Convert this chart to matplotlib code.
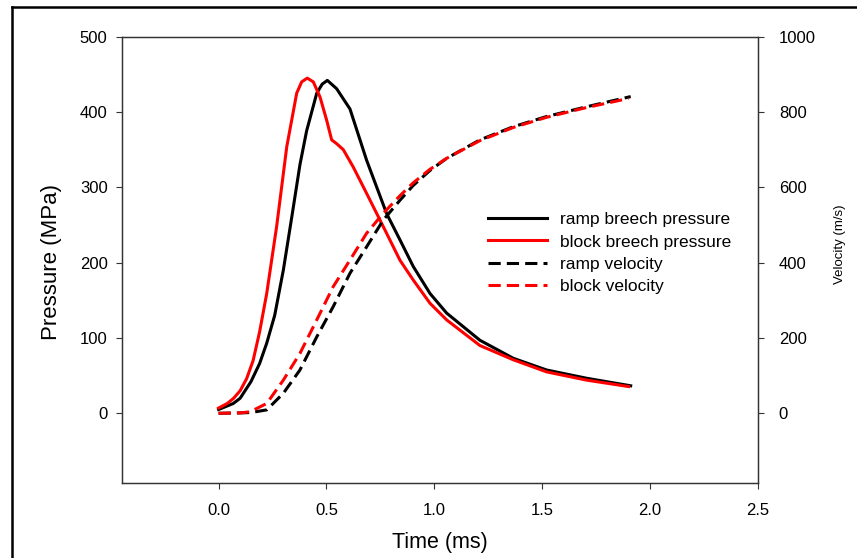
import matplotlib
matplotlib.use("Agg")
import matplotlib.pyplot as plt
from matplotlib.lines import Line2D
from matplotlib.ticker import FormatStrFormatter

plt.rcParams['font.family'] = ['Liberation Sans', 'DejaVu Sans']

# ramp breech pressure (MPa) vs time (ms)
ramp_t = [0, 0.068, 0.1, 0.15, 0.19, 0.223, 0.26, 0.3, 0.34, 0.377, 0.408, 0.455, 0.48,
          0.504, 0.547, 0.609, 0.686, 0.779, 0.841, 0.902, 0.98, 1.057, 1.211, 1.366,
          1.52, 1.706, 1.91]
ramp_p = [5, 13, 20, 42, 66, 93, 130, 190, 262, 330, 375, 425, 437,
          442, 431, 404, 336, 265, 230, 195, 159, 133, 97, 73,
          57.5, 46.5, 36.5]

# block breech pressure (MPa) vs time (ms)
block_t = [0, 0.04, 0.07, 0.1, 0.13, 0.16, 0.19, 0.223, 0.269, 0.316, 0.362, 0.385,
           0.411, 0.439, 0.47, 0.501, 0.524, 0.547, 0.578, 0.624, 0.686, 0.763, 0.841,
           0.902, 0.98, 1.057, 1.211, 1.366, 1.52, 1.706, 1.9]
block_p = [7, 13, 20, 30, 46, 70, 108, 159, 248, 354, 425, 440,
           445, 440, 420, 389, 363, 358, 350, 327, 292, 248, 203,
           177, 146, 124, 90, 71, 55, 44, 35.5]

# ramp velocity (m/s)
ramp_vt = [0, 0.1, 0.15, 0.223, 0.3, 0.377, 0.455, 0.531, 0.609, 0.686, 0.763, 0.841,
           0.902, 0.98, 1.057, 1.211, 1.366, 1.52, 1.706, 1.91]
ramp_v = [0, 1, 2, 9, 53, 115, 203, 283, 372, 442, 513, 566,
          605, 645, 677, 726, 761, 788, 814, 841]

# block velocity (m/s)
block_vt = [0, 0.1, 0.146, 0.223, 0.3, 0.377, 0.455, 0.531, 0.609, 0.686, 0.763, 0.841,
            0.902, 0.98, 1.057, 1.211, 1.366, 1.52, 1.706, 1.9]
block_v = [0, 1, 4, 26, 88, 159, 248, 336, 407, 478, 531, 578,
           612, 648, 677, 724, 759, 786, 812, 836]

fig = plt.figure(figsize=(8.57, 5.58), dpi=100)
L, R, T, B = 121.5, 758, 36.7, 482.5
ax = fig.add_axes([L/857, 1-B/558, (R-L)/857, (B-T)/558])
ax2 = ax.twinx()

lw = 2.2
dash = (0, (4, 2))
l1, = ax.plot(ramp_t, ramp_p, color='black', lw=lw, label='ramp breech pressure')
l2, = ax.plot(block_t, block_p, color='#ff0000', lw=lw, label='block breech pressure')
l3, = ax2.plot(ramp_vt, ramp_v, color='black', lw=lw, ls=dash, label='ramp velocity')
l4, = ax2.plot(block_vt, block_v, color='#ff0000', lw=lw, ls=dash, label='block velocity')

ax.set_xlim(-0.45, 2.5)
ax.set_ylim(-91.9, 500)
ax2.set_ylim(-183.8, 1000)
ax.set_xticks([0, 0.5, 1.0, 1.5, 2.0, 2.5])
ax.xaxis.set_major_formatter(FormatStrFormatter('%.1f'))
ax.set_yticks(range(0, 501, 100))
ax2.set_yticks(range(0, 1001, 200))

for a in (ax, ax2):
    a.tick_params(direction='out', length=4, width=0.8, labelsize=12, color='#333333')
    for s in a.spines.values():
        s.set_linewidth(0.9)
        s.set_color('#333333')
ax.tick_params(axis='x', pad=10.5)
ax.tick_params(axis='y', pad=6)
ax2.tick_params(axis='y', pad=11)

# axis titles
fig.text(440/857, 1-548.3/558, 'Time (ms)', fontsize=15.5, ha='center', va='baseline')
fig.text(52/857, 1-262/558, 'Pressure (MPa)', fontsize=16, rotation=90,
         ha='center', va='center')
fig.text(839.7/857, 1-244/558, 'Velocity (m/s)', fontsize=9.5, rotation=90,
         ha='center', va='center')

fig.legend(handles=[l1, l2, l3, l4], loc='center left',
           bbox_to_anchor=(472.5/857, 1-253/558), frameon=False, fontsize=12.5,
           handlelength=3.4, handletextpad=0.75, labelspacing=0.4)

# outer frame (left and top edges)
fig.add_artist(Line2D([12/857, 12/857], [0, 1-7/558], color='black', lw=1.8,
                      transform=fig.transFigure))
fig.add_artist(Line2D([12/857, 1], [1-7/558, 1-7/558], color='black', lw=1.8,
                      transform=fig.transFigure))

fig.savefig('out.png', dpi=100)
